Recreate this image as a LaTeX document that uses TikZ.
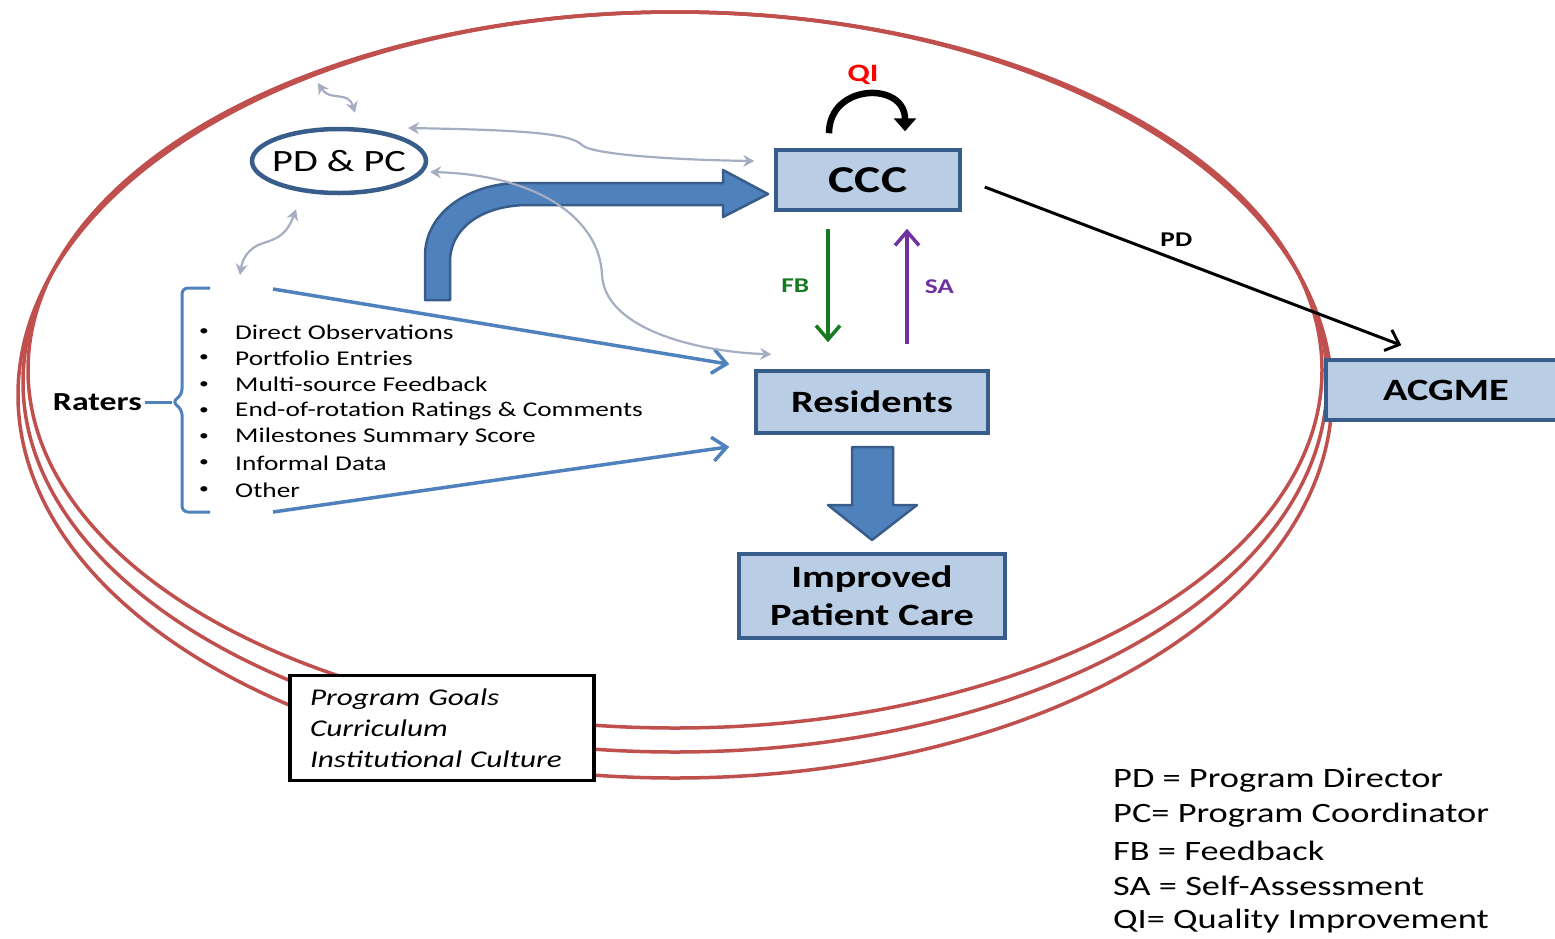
\documentclass[tikz,border=0pt]{standalone}
\usepackage{fontspec}
\setmainfont{Carlito}[FakeStretch=1.3]
\usetikzlibrary{arrows.meta,shapes.geometric}
\definecolor{ringred}{HTML}{C0504D}
\definecolor{boxfill}{HTML}{B9CDE5}
\definecolor{boxline}{HTML}{385D8A}
\definecolor{arrowblue}{HTML}{4F81BD}
\definecolor{linkgray}{HTML}{A5ADC0}
\definecolor{fbgreen}{HTML}{157A22}
\definecolor{sapurple}{HTML}{7030A0}
\begin{document}
\begin{tikzpicture}[x=1pt,y=-1pt,
	ring/.style={draw=ringred,line width=3.5pt},
	bluebox/.style={draw=boxline,fill=boxfill,line width=3.5pt,align=center,
		font=\fontsize{31}{38}\selectfont\bfseries},
	link/.style={draw=linkgray,line width=2.2pt,
		{Stealth[length=11pt,width=12pt]}-{Stealth[length=11pt,width=12pt]}},
	feed/.style={draw=arrowblue,line width=3.5pt,-{Straight Barb[length=14pt,width=24pt]}},
	block/.style={fill=arrowblue,draw=boxline,line width=2.5pt,line join=round},
	item/.style={anchor=west,inner sep=0pt,font=\fontsize{21}{26}\selectfont},
	key/.style={anchor=west,inner sep=0pt,font=\fontsize{28}{35}\selectfont},
	tag/.style={inner sep=0pt,font=\fontsize{21}{24}\selectfont\bfseries}]
	\useasboundingbox (0,0) rectangle (1555,938);
	% the three rings
	\draw[ring] (675,395) ellipse [x radius=657, y radius=383];
	\draw[ring] (675,382) ellipse [x radius=652, y radius=370];
	\draw[ring] (675,370) ellipse [x radius=647, y radius=358];
	% boxes
	\node[bluebox,minimum width=184pt,minimum height=60pt] (ccc) at (868,180) {\fontsize{38}{42}\selectfont CCC};
	\node[bluebox,minimum width=232pt,minimum height=62pt] (res) at (872,402) {Residents};
	\node[bluebox,minimum width=266pt,minimum height=84pt] (care) at (872,596) {Improved\\Patient Care};
	\node[bluebox,minimum width=240pt,minimum height=60pt] (acgme) at (1446,390) {ACGME};
	\node[ellipse,draw=boxline,fill=white,line width=4.5pt,inner xsep=-15pt,inner ysep=0pt,
		minimum width=174pt,minimum height=64pt,font=\fontsize{31}{36}\selectfont] (pdpc) at (339,161) {PD \& PC};
	\node[draw=black,fill=white,line width=3.5pt,minimum width=304pt,minimum height=105pt,
		inner xsep=20pt,text width=264pt,align=left,font=\fontsize{24}{31}\selectfont\itshape] (goals) at (442,728)
		{Program Goals\\Curriculum\\Institutional Culture};
	% raters and their sources
	\node[anchor=east,inner sep=0pt,font=\fontsize{26}{30}\selectfont\bfseries] (raters) at (142,402) {Raters};
	\coordinate (tip) at (172,402);
	\coordinate (bt) at (273,289);
	\coordinate (bb) at (273,512);
	\draw[draw=arrowblue,line width=3pt,rounded corners=6pt] (210,288) -- (182,288) -- (182,395) -- (tip)
		-- (182,409) -- (182,512) -- (210,512);
	\draw[draw=arrowblue,line width=3pt] ([xshift=3pt]raters.east) -- (tip);
	\foreach \txt [count=\i from 0] in {Direct Observations,Portfolio Entries,Multi-source Feedback,
		End-of-rotation Ratings \& Comments,Milestones Summary Score,Informal Data,Other}
	{
		\node[item] (src\i) at (235,332+26.3*\i) {\txt};
		\node[inner sep=0pt,font=\fontsize{15}{15}\selectfont] at (204,332+26.3*\i) {\textbullet};
	}
	\draw[feed] (bt) -- ([shift={(-25,-5)}]res.north west);
	\draw[feed] (bb) -- ([shift={(-25,12)}]res.south west);
	% block arrows
	\draw[block] (425,300) -- (425,256) .. controls (425,212) and (470,183) .. (520,183) -- (723,183)
		-- (723,170) -- (768,194) -- (723,217) -- (723,205) -- (528,205)
		.. controls (485,205) and (450,226) .. (450,262) -- (450,300) -- cycle;
	\draw[block] (852,447) -- (893,447) -- (893,505) -- (917,505) -- (872,540) -- (828,505) -- (852,505) -- cycle;
	% grey links
	\coordinate (rim) at (318,83);
	\coordinate (below) at (240,275);
	\draw[link] (rim) .. controls (330,102) and (348,90) .. ([shift={(16,-14)}]pdpc.north);
	\draw[link] ([shift={(69,-33)}]pdpc.center) .. controls (520,130) and (570,133) .. (582,145)
		.. controls (592,155) and (680,160) .. ([shift={(-20,-19)}]ccc.west);
	\draw[link] ([shift={(91,11)}]pdpc.center) .. controls (540,175) and (600,220) .. (602,275)
		.. controls (605,330) and (700,352) .. ([shift={(17,-15)}]res.north west);
	\draw[link] ([shift={(-43,14)}]pdpc.south) .. controls (285,240) and (270,240) .. (258,245)
		.. controls (245,252) and (242,262) .. (below);
	% CCC loop, FB, SA, PD
	\draw[line width=6.5pt,-{Triangle[length=13pt,width=22pt]}] ([shift={(-39,-15)}]ccc.north)
		.. controls +(0,-50) and +(0,-50) .. ([shift={(37,-17)}]ccc.north);
	\node[font=\fontsize{25}{28}\selectfont\bfseries,text=red] (qi) at (863,75) {QI};
	\draw[fbgreen,line width=3.5pt,-{Straight Barb[length=14pt,width=24pt]}] ([shift={(-40,17)}]ccc.south)
		-- ([shift={(-44,-27)}]res.north) node[midway,left=17pt,tag,text=fbgreen] {FB};
	\draw[sapurple,line width=3.5pt,-{Straight Barb[length=14pt,width=24pt]}] ([shift={(35,-25)}]res.north)
		-- ([shift={(39,17)}]ccc.south) node[midway,right=16pt,tag,text=sapurple] {SA};
	\draw[line width=3pt,-{Straight Barb[length=12pt,width=22pt]}] ([shift={(23,7)}]ccc.east)
		-- ([shift={(77,-13)}]acgme.north west) node[pos=0.46,above=12pt,tag] {PD};
	% legend
	\foreach \txt [count=\i from 0] in {PD = Program Director,PC= Program Coordinator,FB = Feedback,
		SA = Self-Assessment,QI= Quality Improvement}
		\node[key] (key\i) at (1113,780+35.3*\i) {\txt};
\end{tikzpicture}
\end{document}
